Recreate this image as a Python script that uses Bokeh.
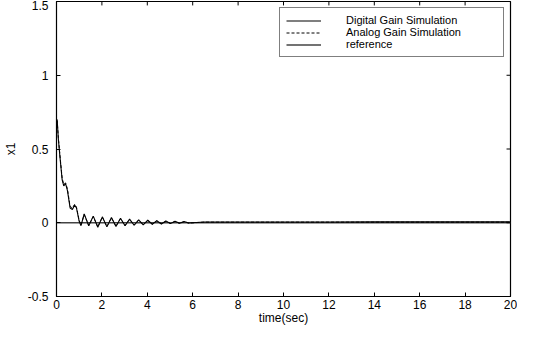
from bokeh.plotting import figure
from bokeh.models import Range1d, FixedTicker, Legend, LegendItem
from bokeh.embed import file_html
from bokeh.resources import INLINE

# time (sec) and x1 responses
t_dig = [0.0, 0.03, 0.08, 0.15, 0.25, 0.32, 0.4, 0.48, 0.6, 0.7, 0.8, 0.88, 1.0, 1.08,
         1.22, 1.42, 1.62, 1.82, 2.02, 2.22, 2.42, 2.62, 2.82, 3.02, 3.22, 3.42,
         3.62, 3.82, 4.02, 4.22, 4.42, 4.62, 4.82, 5.02, 5.22, 5.42, 5.62, 5.82,
         6.5, 8.0, 10.0, 12.0, 14.0, 16.0, 18.0, 20.0]
x1_dig = [0.69, 0.70, 0.57, 0.45, 0.29, 0.25, 0.265, 0.22, 0.10, 0.09, 0.12, 0.10, 0.01, -0.02,
          0.06, -0.02, 0.045, -0.03, 0.04, -0.028, 0.035, -0.025, 0.03, -0.02, 0.025, -0.017,
          0.02, -0.014, 0.017, -0.01, 0.014, -0.008, 0.012, -0.006, 0.01, -0.004, 0.008, -0.002,
          0.005, 0.005, 0.005, 0.005, 0.006, 0.006, 0.006, 0.006]

t_ana = [0.0, 0.03, 0.08, 0.15, 0.25, 0.32, 0.4, 0.48, 0.6, 0.7, 0.8, 0.88, 1.0, 1.08,
         1.22, 1.42, 1.62, 1.82, 2.02, 2.22, 2.42, 2.62, 2.82, 3.02, 3.22, 3.42,
         3.62, 3.82, 4.02, 4.22, 4.42, 4.62, 4.82, 5.02, 5.22, 5.42, 5.62, 5.82,
         6.5, 8.0, 10.0, 12.0, 14.0, 16.0, 18.0, 20.0]
x1_ana = [0.69, 0.69, 0.58, 0.46, 0.30, 0.26, 0.27, 0.23, 0.11, 0.10, 0.125, 0.105, 0.015, -0.015,
          0.055, -0.018, 0.042, -0.028, 0.038, -0.026, 0.033, -0.023, 0.028, -0.019, 0.023, -0.016,
          0.019, -0.013, 0.016, -0.01, 0.013, -0.007, 0.011, -0.005, 0.009, -0.004, 0.007, -0.002,
          0.004, 0.004, 0.004, 0.004, 0.004, 0.004, 0.004, 0.004]

t_ref = [0.0, 20.0]
x1_ref = [0.0, 0.0]

x_ticks = [0, 2, 4, 6, 8, 10, 12, 14, 16, 18, 20]
y_ticks = [-0.5, 0, 0.5, 1, 1.5]
y_tick_labels = {-0.5: "-0.5", 0: "0", 0.5: "0.5", 1: "1", 1.5: "1.5"}

FONT = "Liberation Sans"
X0, X1 = 0, 20
Y0, Y1 = -0.5, 1.5
FW, FH = 458, 300
TICK = 4

p = figure(width=517, height=327, output_backend="svg", toolbar_location=None,
           x_range=Range1d(X0, X1), y_range=Range1d(Y0, Y1),
           min_border_left=52, min_border_right=7, min_border_top=1, min_border_bottom=24)
p.xgrid.visible = False
p.ygrid.visible = False
p.outline_line_color = "black"
p.outline_line_width = 1.2
p.background_fill_color = "white"
p.border_fill_color = "white"

r_ref = p.line(t_ref, x1_ref, line_color="#444444", line_width=1.3)
r_dig = p.line(t_dig, x1_dig, line_color="black", line_width=1.1)
r_ana = p.line(t_ana, x1_ana, line_color="black", line_width=1.0, line_dash="3 2")

# inward ticks on the top and right edges of the box (MATLAB style)
dy = TICK * (Y1 - Y0) / FH
dx = TICK * (X1 - X0) / FW
p.segment(x0=x_ticks, y0=[Y1] * len(x_ticks), x1=x_ticks, y1=[Y1 - dy] * len(x_ticks),
          line_color="black", line_width=1)
p.segment(x0=[X1] * len(y_ticks), y0=y_ticks, x1=[X1 - dx] * len(y_ticks), y1=y_ticks,
          line_color="black", line_width=1)

for ax in (p.xaxis[0], p.yaxis[0]):
    ax.major_tick_in = TICK
    ax.major_tick_out = 0
    ax.minor_tick_line_color = None
    ax.axis_line_color = "black"
    ax.major_tick_line_color = "black"
    ax.major_label_text_font = FONT
    ax.major_label_text_font_size = "12px"
    ax.major_label_text_color = "black"
    ax.axis_label_text_font = FONT
    ax.axis_label_text_font_size = "12px"
    ax.axis_label_text_font_style = "normal"
    ax.axis_label_text_color = "black"

p.xaxis.ticker = FixedTicker(ticks=x_ticks)
p.yaxis.ticker = FixedTicker(ticks=y_ticks)
p.yaxis.major_label_overrides = y_tick_labels
p.xaxis.axis_label = "time(sec)"
p.yaxis.axis_label = "x1"
p.xaxis.major_label_standoff = 3
p.xaxis.axis_label_standoff = -1
p.yaxis.major_label_standoff = 8
p.yaxis.axis_label_standoff = 7

legend = Legend(items=[
    LegendItem(label="Digital Gain Simulation", renderers=[r_dig]),
    LegendItem(label="Analog Gain Simulation", renderers=[r_ana]),
    LegendItem(label="reference", renderers=[r_ref]),
], location="top_right")
legend.border_line_color = "black"
legend.border_line_width = 1
legend.background_fill_alpha = 1.0
legend.label_text_font = FONT
legend.label_text_font_size = "11px"
legend.label_text_color = "black"
legend.glyph_width = 35
legend.glyph_height = 9
legend.label_height = 9
legend.label_width = 151
legend.label_standoff = 25
legend.spacing = 0
legend.padding = 6
legend.margin = 6
p.add_layout(legend, "center")

open("out.html", "w").write(file_html(p, INLINE))
